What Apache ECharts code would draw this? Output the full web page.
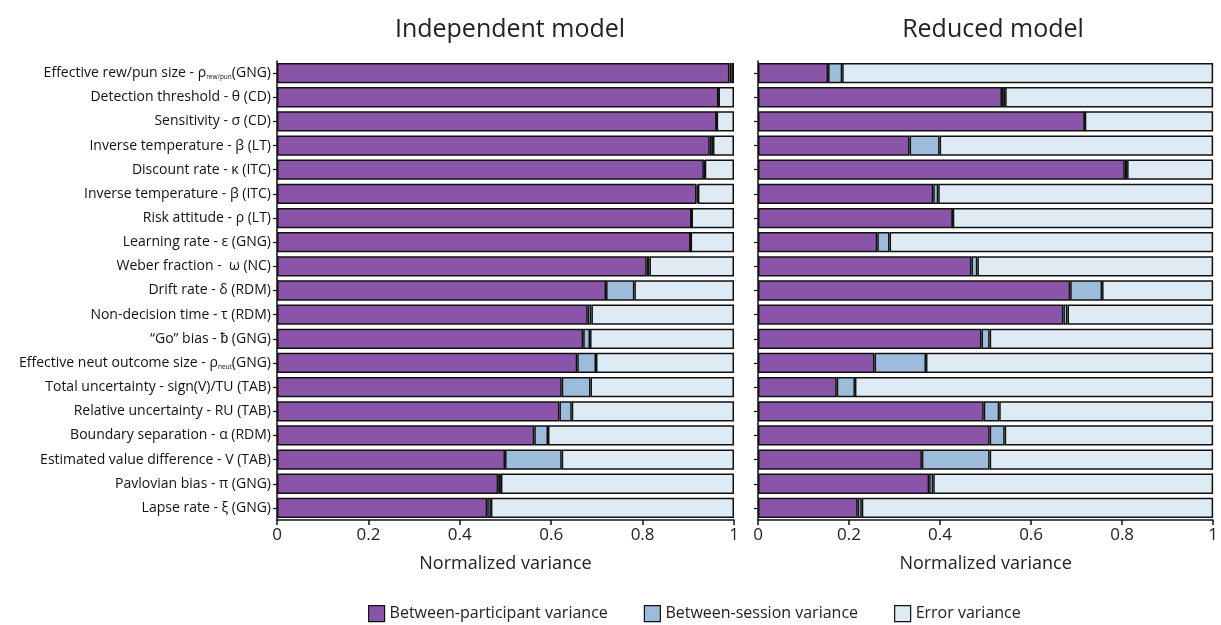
<!DOCTYPE html>
<html><head><meta charset="utf-8">
<script src="https://cdn.jsdelivr.net/npm/echarts@6/dist/echarts.min.js"></script>
<style>html,body{margin:0;padding:0;background:#fff}#c{width:1221px;height:625px}</style>
</head><body><div id="c"></div>
<script>
const categories = [
  "Effective rew/pun size - ρ{s|rew/pun}(GNG)",
  "Detection threshold - θ (CD)",
  "Sensitivity - σ (CD)",
  "Inverse temperature - β (LT)",
  "Discount rate - κ (ITC)",
  "Inverse temperature - β (ITC)",
  "Risk attitude - ρ (LT)",
  "Learning rate - ε (GNG)",
  "Weber fraction -  ω (NC)",
  "Drift rate - δ (RDM)",
  "Non-decision time - τ (RDM)",
  "“Go” bias - ƀ (GNG)",
  "Effective neut outcome size - ρ{s|neut}(GNG)",
  "Total uncertainty - sign(V)/TU (TAB)",
  "Relative uncertainty - RU (TAB)",
  "Boundary separation - α (RDM)",
  "Estimated value difference - V (TAB)",
  "Pavlovian bias - π (GNG)",
  "Lapse rate - ξ (GNG)"
];
const seriesNames = ["Between-participant variance", "Between-session variance", "Error variance"];
const xTicks = [0, 0.2, 0.4, 0.6, 0.8, 1];

const indParticipant = [0.990,0.966,0.962,0.947,0.934,0.918,0.907,0.905,0.809,0.720,0.680,0.670,0.657,0.623,0.618,0.563,0.499,0.484,0.460];
const indSession     = [0.005,0.000,0.000,0.007,0.002,0.003,0.000,0.000,0.006,0.062,0.008,0.015,0.041,0.063,0.027,0.030,0.124,0.006,0.008];
const indError       = [0.005,0.034,0.038,0.046,0.064,0.079,0.093,0.095,0.185,0.218,0.312,0.315,0.302,0.314,0.355,0.407,0.377,0.510,0.532];

const redParticipant = [0.154,0.536,0.718,0.333,0.806,0.385,0.428,0.262,0.469,0.686,0.671,0.491,0.256,0.173,0.496,0.509,0.360,0.376,0.219];
const redSession     = [0.031,0.007,0.000,0.066,0.005,0.011,0.000,0.027,0.013,0.070,0.009,0.018,0.113,0.040,0.034,0.033,0.149,0.009,0.009];
const redError       = [0.815,0.457,0.282,0.601,0.189,0.604,0.572,0.711,0.518,0.244,0.320,0.491,0.631,0.787,0.470,0.458,0.491,0.615,0.772];

const colors = ["#8a55a8", "#9dbcdb", "#deebf4"];
const fontFam = "'Open Sans', sans-serif";

const chart = echarts.init(document.getElementById('c'));
const grids = [
  {left: 277, top: 61, width: 457, height: 459},
  {left: 758, top: 61, width: 457, height: 459}
];
function xAxis(i){
  return {
    type: 'value', gridIndex: i, min: 0, max: 1, interval: 0.2,
    splitLine: {show: false},
    axisLine: {show: true, lineStyle: {color: '#111', width: 1.5}},
    axisTick: {show: true, length: 5, lineStyle: {color: '#111', width: 1.5}},
    axisLabel: {fontSize: 17, color: '#222', fontFamily: fontFam, margin: 7,
      formatter: v => (xTicks.indexOf(+v.toFixed(1)) >= 0 ? String(+v.toFixed(1)) : '')},
    name: 'Normalized variance', nameLocation: 'middle', nameGap: 35,
    nameTextStyle: {fontSize: 18, color: '#222', fontFamily: fontFam}
  };
}
function yAxis(i, showLabels){
  return {
    type: 'category', gridIndex: i, data: categories, inverse: true,
    axisLine: {show: true, lineStyle: {color: '#111', width: 1.5}},
    axisTick: {show: true, alignWithLabel: true, length: 4, lineStyle: {color: '#111', width: 1.2}},
    axisLabel: {show: showLabels, fontSize: 14, color: '#111', fontFamily: fontFam, margin: 6,
      rich: {s: {fontSize: 6.5, color: '#111', fontFamily: fontFam, verticalAlign: 'bottom', padding: [9, 0, 0, 0]}}}
  };
}
function bars(data, k, i){
  return {
    name: seriesNames[k], type: 'bar', stack: 'g' + i, xAxisIndex: i, yAxisIndex: i,
    data: data, barCategoryGap: '16%',
    itemStyle: {color: colors[k], borderColor: '#111', borderWidth: 1.5},
    emphasis: {disabled: true}
  };
}
chart.setOption({
  animation: false,
  title: [
    {text: 'Independent model', left: 505, top: 12, textAlign: 'center',
     textStyle: {fontSize: 25, fontWeight: 'normal', color: '#222', fontFamily: fontFam}},
    {text: 'Reduced model', left: 988, top: 12, textAlign: 'center',
     textStyle: {fontSize: 25, fontWeight: 'normal', color: '#222', fontFamily: fontFam}}
  ],
  legend: {
    data: seriesNames, top: 600, left: 363, icon: 'rect', itemWidth: 16, itemHeight: 16, itemGap: 36,
    textStyle: {fontSize: 16, color: '#222', fontFamily: fontFam},
    itemStyle: {borderColor: '#111', borderWidth: 1.2}
  },
  grid: grids,
  xAxis: [xAxis(0), xAxis(1)],
  yAxis: [yAxis(0, true), yAxis(1, false)],
  series: [
    bars(indParticipant, 0, 0), bars(indSession, 1, 0), bars(indError, 2, 0),
    bars(redParticipant, 0, 1), bars(redSession, 1, 1), bars(redError, 2, 1)
  ]
});
</script></body></html>
